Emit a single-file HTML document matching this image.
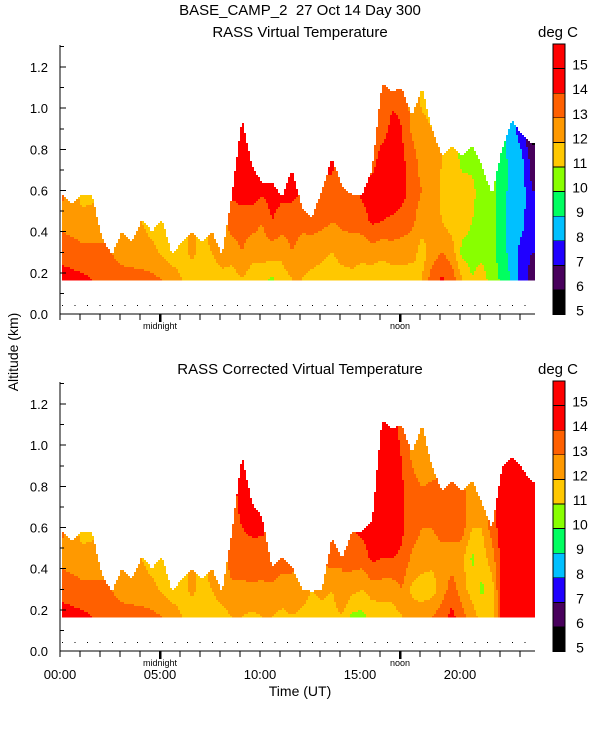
<!DOCTYPE html>
<html><head><meta charset="utf-8">
<style>
body{margin:0;background:#fff;}
svg{display:block;font-family:"Liberation Sans",sans-serif;}
</style></head>
<body>
<svg id="chart" width="600" height="750" viewBox="0 0 600 750" xmlns="http://www.w3.org/2000/svg">
<text x="300" y="15" font-size="15" text-anchor="middle">BASE_CAMP_2&#160;&#160;27 Oct 14 Day 300</text>
<text x="300" y="37" font-size="15" text-anchor="middle">RASS Virtual Temperature</text>
<text x="558" y="37" font-size="15" text-anchor="middle">deg C</text>
<text x="300" y="374" font-size="15" text-anchor="middle">RASS Corrected Virtual Temperature</text>
<text x="558" y="374" font-size="15" text-anchor="middle">deg C</text>
<text transform="translate(18,352) rotate(-90)" font-size="14" text-anchor="middle">Altitude (km)</text>
<text x="300" y="696" font-size="14" text-anchor="middle">Time (UT)</text>
<g id="plots" shape-rendering="crispEdges"></g>
</svg>
<script>
const levels = [0.17, 0.3, 0.45, 0.6, 0.75, 0.9, 1.05];
const colStartHour = 0.1;
const colStepHour = 0.5;
const upperTops = [0.58,0.53,0.58,0.58,0.37,0.29,0.40,0.35,0.46,0.40,0.46,0.29,0.35,0.40,0.35,0.40,0.29,0.58,0.95,0.72,0.64,0.64,0.57,0.70,0.52,0.47,0.60,0.76,0.62,0.58,0.58,0.70,1.12,1.08,1.10,0.96,1.10,0.90,0.77,0.82,0.77,0.82,0.72,0.58,0.80,0.94,0.87,0.83];
const lowerTops = [0.58,0.53,0.58,0.58,0.37,0.29,0.40,0.35,0.46,0.40,0.46,0.29,0.35,0.40,0.35,0.40,0.29,0.58,0.95,0.72,0.65,0.41,0.46,0.41,0.30,0.29,0.30,0.55,0.45,0.58,0.58,0.63,1.12,1.08,1.10,0.96,1.10,0.90,0.78,0.83,0.78,0.83,0.72,0.60,0.89,0.94,0.89,0.82];
const upperTemps = [
[14.5,13.5,12.8,13.2],[14.3,13.5,12.5,12.5],[14.2,13.3,12.3,11.6],[14.0,13.2,12.5,11.6],
[13.5,13.2,12.5],[13.5,13.0],[13.5,12.5,12.5],[13.3,12.6],[13.3,12.5,12.0],[13.2,12.3,11.5],
[13.0,11.8,11.5],[12.5,11.5],[12.0,11.6,11.5],[11.6,12.2,12.2],[11.5,11.7,11.7],[11.5,12.0,12.5],
[11.7,12.5],[11.5,12.5,13.5,14.2],[12.0,13.0,13.5,14.5,14.5,14.5,14.5],[11.5,12.3,13.5,14.5,14.5],
[11.3,12.5,13.0,14.2,14.2],[10.8,12.5,14.0,14.5,14.5],[11.5,12.3,13.5,14.3],[12.0,13.0,13.5,14.3,14.5],
[12.0,12.5,13.3,14.0],[11.7,12.5,13.4],[11.5,12.3,13.3,14.0],[11.2,12.0,13.0,13.8,14.2],
[11.5,12.5,13.2,13.5],[11.7,12.5,13.3,13.5],[11.5,12.3,13.5,14.3],[11.5,12.5,14.2,14.5,13.5],
[11.2,12.3,14.0,14.8,14.5,13.5,13.3],[11.5,12.5,13.8,14.8,14.8,14.3,13.8],[11.5,12.5,13.5,14.5,14.2,14.0,13.8],
[11.3,12.5,13.2,13.5,13.5,12.8,12.5],[12.0,11.5,12.5,13.0,12.5,12.3,11.8],[13.5,12.5,12.3,12.5,12.5,12.0,11.5],
[14.2,13.0,12.0,11.8,12.0,12.0],[13.5,12.5,11.5,11.5,11.5,11.5],[12.0,10.7,11.5,11.3,10.8,10.5],
[11.0,10.6,11.0,11.2,10.8,10.4],[11.5,10.7,10.8,10.6,10.4],[10.5,10.3,10.3,10.3,10.3],
[9.8,9.5,9.3,9.5,9.5,9.6],[8.8,8.5,8.5,8.5,8.5,8.3],[7.5,7.6,8.3,8.5,8.2,7.5],[6.5,7.0,7.2,7.0,6.5,5.5]
];
const lowerTempsRight = [
[12.0,12.8,13.5,13.5],[12.0,12.8,13.5,14.0,14.5,14.5,14.5],[11.8,12.8,13.6,14.2,14.5],[12.0,12.8,13.5,14.2,14.5],
[12.0,12.8,13.8],[11.8,12.5,13.5],[12.0,12.5,13.5],[11.8,12.5],[11.5,12.0],[11.2,12.5,13.0,14.2],
[11.5,12.0,13.5,14.2,14.5],[12.0,13.0,13.0],[10.8,12.3,13.5,14.0],[10.7,12.0,13.5,14.3,14.5],
[11.3,12.5,14.2,14.5,14.5],[11.5,12.5,14.0,14.8,14.8,14.5,14.5],[11.5,12.5,14.0,14.8,14.8,14.8,14.3],
[12.0,13.0,13.8,14.2,14.2,14.0,13.8],[12.5,11.8,12.8,13.5,13.5,13.0,12.5],[12.5,11.5,12.5,13.0,13.2,12.5,12.0],
[13.0,11.5,12.3,13.0,13.5,12.5,12.0],[13.5,12.5,12.5,13.5,13.5,12.8,12.3],[14.3,13.5,12.5,13.5,14.0,13.0],
[13.3,12.5,12.3,13.5,13.5,12.5],[12.5,11.5,10.8,12.0,12.5,12.0],[11.5,10.8,11.5,12.0,12.5],
[11.3,11.5,12.5,13.5],[14.5,14.5,14.5,14.5,14.5,14.5],[14.5,14.5,14.5,14.5,14.5,14.5],
[14.5,14.5,14.5,14.5,14.5,14.5],[14.5,14.5,14.5,14.5,14.5,13.5]
];
const lowerTemps = upperTemps.slice(0,17).concat(lowerTempsRight);
const colorbarLabels = [15,14,13,12,11,10,9,8,7,6,5];
const yTickLabels = ["0.0","0.2","0.4","0.6","0.8","1.0","1.2"];
const xTickLabels = ["00:00","05:00","10:00","15:00","20:00"];

const NS = "http://www.w3.org/2000/svg";
const root = document.getElementById('plots');
const X0 = 60, PXH = 20, KM = 205.8, HMIN = 0.162, XEND = 535;
function xOf(hr){ return X0 + hr*PXH; }
function yOf(h, base){ return base - h*KM; }
function colorOf(v){
  if (v >= 14) return "#ff0000";
  if (v >= 13) return "#ff6000";
  if (v >= 12) return "#ff9900";
  if (v >= 11) return "#ffc800";
  if (v >= 10) return "#88ff00";
  if (v >= 9) return "#00ff60";
  if (v >= 8) return "#00c0ff";
  if (v >= 7) return "#2000ff";
  if (v >= 6) return "#48005c";
  return "#000000";
}
function el(tag, attrs, parent){
  const e = document.createElementNS(NS, tag);
  for (const k in attrs) e.setAttribute(k, attrs[k]);
  (parent||root).appendChild(e); return e;
}
function profVal(col, h){
  const n = levels.length;
  const get = i => col[Math.min(i, col.length-1)];
  if (h <= levels[0]) return get(0);
  for (let i=0;i<n-1;i++){
    if (h <= levels[i+1]){ const f=(h-levels[i])/(levels[i+1]-levels[i]); return get(i)*(1-f)+get(i+1)*f; }
  }
  return get(n-1);
}
function drawPanel(base, tops, temps, name){
  const g = el('g', {});
  
  
  const nCol = tops.length;
  const step = 2;
  const yTop = Math.floor(yOf(Math.max.apply(null,tops), base)) - 2;
  const yBot = yOf(HMIN, base);
  for (let y = yTop; y < yBot; y += step){
    const yy = Math.min(y+step, yBot);
    const h = (base - (y+yy)/2)/KM;
    let runStart = -1, runColor = null;
    const flush = (xe) => {
      if (runColor){
        const r = el('rect', {x:runStart, y:y, width:xe-runStart, height:yy-y, fill:runColor}, g);
        
        
      }
    };
    for (let x = 62; x < XEND; x += step){
      const hr = (x+1-X0)/PXH;
      let fi = (hr - colStartHour)/colStepHour;
      fi = Math.max(0, Math.min(nCol-1, fi));
      const i = Math.min(nCol-2, Math.floor(fi)), f = fi - i;
      const top = tops[i]*(1-f) + tops[i+1]*f;
      let c = null;
      if (h <= top){
        const v = profVal(temps[i], h)*(1-f) + profVal(temps[i+1], h)*f;
        c = colorOf(v);
      }
      if (c !== runColor){ flush(x); runStart = x; runColor = c; }
    }
    flush(XEND);
  }
}
function drawAxes(base, name, bottomLabels){
  const top = base - 269;
  const a = el('line', {x1:X0, y1:top, x2:X0, y2:base, stroke:'#000', 'stroke-width':1.3});
   
  const b = el('line', {x1:X0, y1:base, x2:XEND, y2:base, stroke:'#000', 'stroke-width':1.3});
   
  for (let k=0;k<=13;k++){
    const y = yOf(k*0.1, base);
    el('line', {x1:X0, y1:y, x2:X0+(k%2===0?6:4), y2:y, stroke:'#000'});
  }
  yTickLabels.forEach((lab, k) => {
    const t = el('text', {x:48, y:yOf(k*0.2, base)+5, 'font-size':13, 'text-anchor':'end'});
    t.textContent = lab;
     
  });
  for (let hr=0; hr<=23; hr++){
    const x = xOf(hr);
    const big = (hr===5||hr===17);
    el('line', {x1:x, y1:base, x2:x, y2:base+(big?8:6), stroke:'#000', 'stroke-width':big?2.5:1});
  }
  const yd = yOf(0.044, base);
  for (let x = X0+2; x < XEND; x += 12.5) el('rect', {x:x, y:yd, width:1, height:1, fill:'#000'});
  const m = el('text', {x:xOf(5), y:base+15, 'font-size':9, 'text-anchor':'middle'}); m.textContent='midnight';
   
  const n = el('text', {x:xOf(17), y:base+15, 'font-size':9, 'text-anchor':'middle'}); n.textContent='noon';
   
  if (bottomLabels){
    xTickLabels.forEach((lab,k) => {
      const t = el('text', {x:xOf(k*5), y:base+28, 'font-size':13, 'text-anchor':'middle'});
      t.textContent = lab;
       
    });
  }
}
function drawColorbar(topY, name){
  const g = el('g', {});
   
  const bh = 24.6;
  const fills = ["#ff0000","#ff0000","#ff6000","#ff9900","#ffc800","#88ff00","#00ff60","#00c0ff","#2000ff","#48005c","#000000"];
  fills.forEach((c,k) => {
    const r = el('rect', {x:553, y:topY+k*bh, width:12, height:bh, fill:c, stroke:'#000', 'stroke-width':0.8}, g);
     
  });
  colorbarLabels.forEach((lab,k) => {
    const t = el('text', {x:580, y:topY+(k+1)*bh+1, 'font-size':14, 'text-anchor':'middle'}, g);
    t.textContent = lab;
     
  });
}
drawPanel(314, upperTops, upperTemps, 'top-panel');
drawAxes(314, 'top-panel', false);
drawColorbar(44, 'top');
drawPanel(651, lowerTops, lowerTemps, 'bottom-panel');
drawAxes(651, 'bottom-panel', true);
drawColorbar(381, 'bottom');
</script>
</body></html>
